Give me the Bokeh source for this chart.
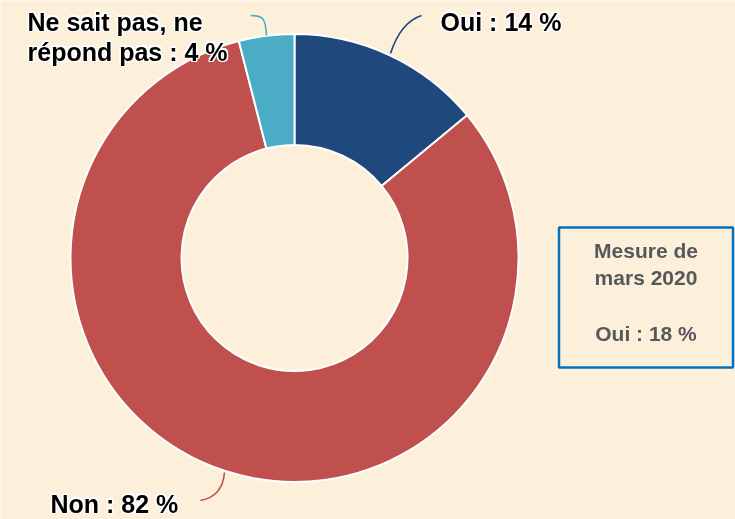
import math
from bokeh.plotting import figure
from bokeh.models import ColumnDataSource
from bokeh.core.properties import value
from bokeh.embed import file_html
from bokeh.resources import INLINE

# ---- data ----
categories = ["Oui", "Non", "Ne sait pas, ne répond pas"]
values = [14, 82, 4]
colors = ["#1F497D", "#C0504D", "#4BACC6"]
previous_label = "Mesure de mars 2020"
previous_value = 18

BG = "#FDF0DB"
W, H = 735, 519

p = figure(width=W, height=H, x_range=(0, W), y_range=(0, H),
           output_backend="svg", toolbar_location=None,
           x_axis_location=None, y_axis_location=None,
           min_border=0, outline_line_color=None,
           background_fill_color=BG, border_fill_color=BG,
           styles={"position": "fixed", "left": "0px", "top": "0px"})
p.grid.visible = False

def Y(ypix):
    return H - ypix

# donut
cx, cy = 294, Y(257.5)
total = sum(values)
starts, ends = [], []
acc = 0
for v in values:
    starts.append(math.pi / 2 - 2 * math.pi * acc / total)
    acc += v
    ends.append(math.pi / 2 - 2 * math.pi * acc / total)

src = ColumnDataSource(dict(start=starts, end=ends, color=colors, cat=categories))
p.annular_wedge(x=cx, y=cy, inner_radius=113, outer_radius=224,
                start_angle="start", end_angle="end", direction="clock",
                fill_color="color", line_color="white", line_width=2, source=src)

# connectors
p.quadratic(x0=[390], y0=[Y(53)], x1=[421], y1=[Y(15)], cx=[400], cy=[Y(22)],
            line_color=colors[0], line_width=1.6)
p.quadratic(x0=[224], y0=[Y(472)], x1=[200], y1=[Y(500)], cx=[222], cy=[Y(496)],
            line_color=colors[1], line_width=1.6)
p.bezier(x0=[266], y0=[Y(35)], x1=[250], y1=[Y(15)], cx0=[265], cy0=[Y(18)],
         cx1=[263], cy1=[Y(15)], line_color=colors[2], line_width=1.6)

# slice labels (white halo + black bold text)
LF = 25
shift = 0.4 * LF
lab_text = [f"Oui : {values[0]} %", f"Non : {values[1]} %",
            "Ne sait pas, ne", f"répond pas : {values[2]} %"]
lab_x = [440, 50, 27, 27]
lab_y = [Y(31 - shift), Y(513 - shift), Y(31 - shift), Y(61 - shift)]
lsrc = ColumnDataSource(dict(x=lab_x, y=lab_y, t=lab_text))
for dx, dy in [(-1.5, 0), (1.5, 0), (0, -1.5), (0, 1.5),
               (-1.1, -1.1), (1.1, 1.1), (-1.1, 1.1), (1.1, -1.1)]:
    p.text(x="x", y="y", text="t", source=lsrc, x_offset=dx, y_offset=dy,
           text_font=value("Liberation Sans"), text_font_style="bold",
           text_font_size=f"{LF}px", text_color="white",
           text_align="left", text_baseline="alphabetic")
p.text(x="x", y="y", text="t", source=lsrc,
       text_font=value("Liberation Sans"), text_font_style="bold",
       text_font_size=f"{LF}px", text_color="black",
       text_align="left", text_baseline="alphabetic")

# previous measure box
p.quad(left=[558.5], right=[732.5], top=[Y(227)], bottom=[Y(367)],
       fill_color=None, line_color="#0070C0", line_width=2.5)
BF = 21
bshift = 0.4 * BF
box_text = ["Mesure de", "mars 2020", f"Oui : {previous_value} %"]
box_y = [Y(258 - bshift), Y(285 - bshift), Y(341 - bshift)]
p.text(x=[645.5] * 3, y=box_y, text=box_text, text_font=value("Liberation Sans"),
       text_font_style="bold", text_font_size=f"{BF}px", text_color="#57585C",
       text_align="center", text_baseline="alphabetic")

open("out.html", "w").write(file_html(p, INLINE))
